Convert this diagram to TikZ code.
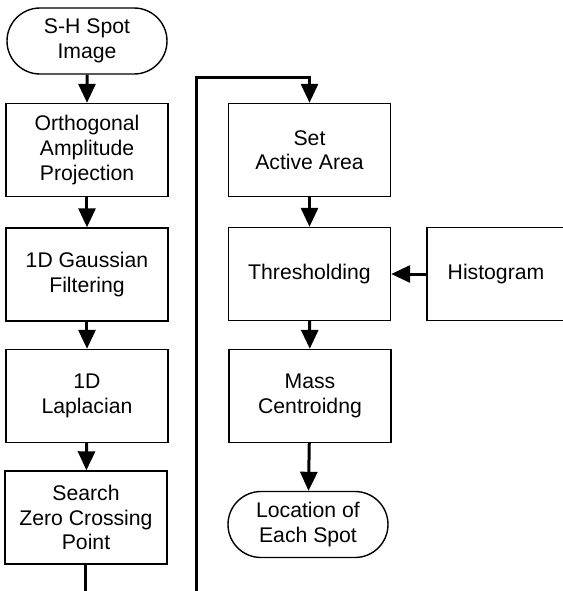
\documentclass[tikz,border=0pt]{standalone}
\usepackage{fontspec}
\setmainfont{Liberation Sans}
\usetikzlibrary{arrows.meta,shapes.misc}

\tikzset{
  procbox/.style={draw,line width=0.7pt,minimum width=81pt,minimum height=46.5pt,
    align=center,inner sep=0pt,font=\fontsize{10.6}{12.3}\selectfont},
  termbox/.style={draw,line width=0.7pt,rounded rectangle,minimum width=80pt,minimum height=33pt,
    align=center,inner sep=0pt,font=\fontsize{10.6}{12.3}\selectfont},
  flow/.style={line width=1.5pt,-{Triangle[length=9.5pt,width=8.5pt]}}
}

\begin{document}
\begin{tikzpicture}[x=0.5pt,y=-0.5pt]
  \useasboundingbox (0,0) rectangle (563,591);

  % left column
  \node[termbox] (spot) at (87,41) {S-H Spot\\Image};
  \node[procbox] (ortho) at (87,150) {Orthogonal\\Amplitude\\Projection};
  \node[procbox] (gauss) at (87,274.5) {1D Gaussian\\Filtering};
  \node[procbox] (lapl) at (87,396) {1D\\Laplacian};
  \node[procbox] (zero) at (86,517.5) {Search\\Zero Crossing\\Point};

  % right column
  \node[procbox] (area) at (309.5,150) {Set\\Active Area};
  \node[procbox] (thresh) at (309.5,274) {Thresholding};
  \node[procbox,minimum width=69pt] (hist) at (496,274) {Histogram};
  \node[procbox] (mass) at (310,396) {Mass\\Centroidng};
  \node[termbox] (loc) at (308,524.5) {Location of\\Each Spot};

  \draw[flow] (spot) -- (ortho);
  \draw[flow] (ortho) -- (gauss);
  \draw[flow] (gauss) -- (lapl);
  \draw[flow] (lapl) -- (zero);

  % loop over to the right column
  \draw[flow] (zero.south) -- ++(0,50) -| (197,77) -| (area.north);

  \draw[flow] (area) -- (thresh);
  \draw[flow] (hist) -- (thresh);
  \draw[flow] (thresh) -- (mass);
  \draw[flow] (mass) -- (loc);
\end{tikzpicture}
\end{document}
